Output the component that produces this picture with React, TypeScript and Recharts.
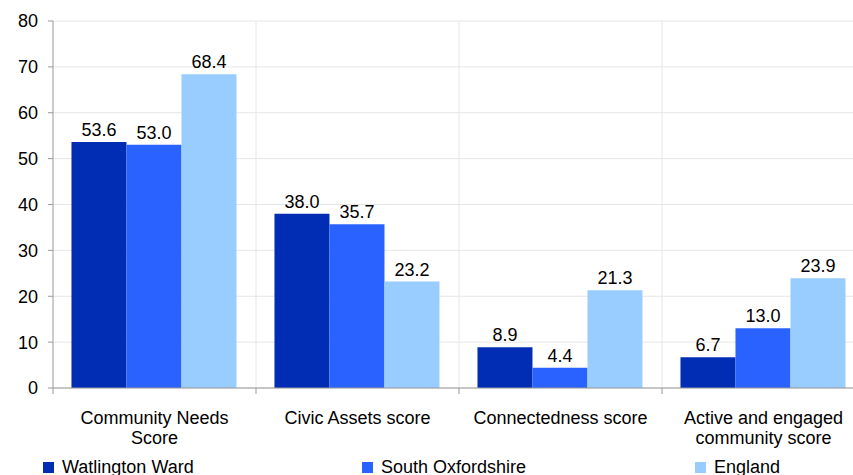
import React from 'react';
import { BarChart, Bar, XAxis, YAxis, CartesianGrid, LabelList, Legend, Text, ReferenceLine } from 'recharts';

const categories = [
  'Community Needs Score',
  'Civic Assets score',
  'Connectedness score',
  'Active and engaged community score',
];
const watlingtonWard = [53.6, 38.0, 8.9, 6.7];
const southOxfordshire = [53.0, 35.7, 4.4, 13.0];
const england = [68.4, 23.2, 21.3, 23.9];
const seriesNames = ['Watlington Ward', 'South Oxfordshire', 'England'];
const yTicks = [0, 10, 20, 30, 40, 50, 60, 70, 80];

const COLORS = ['#002db3', '#2962ff', '#99ccff'];
const FONT = '"Liberation Sans", Arial, sans-serif';
const AXIS_GREY = '#999';

const data = categories.map((c, i) => ({
  category: c,
  w: watlingtonWard[i],
  s: southOxfordshire[i],
  e: england[i],
}));

const TICK_SIZE = 6;
const TICK_MARGIN = 17;

const CatTick = (props: any) => {
  const { x, y, payload } = props;
  const half = payload && typeof payload.offset === 'number' ? payload.offset : 0;
  const axisY = y - TICK_SIZE - TICK_MARGIN;
  const bx = x - half;
  return (
    <g>
      <line x1={bx} y1={axisY} x2={bx} y2={axisY + TICK_SIZE} stroke={AXIS_GREY} />
      <Text
        x={x}
        y={y}
        width={165}
        textAnchor="middle"
        verticalAnchor="start"
        fontSize={18}
        fontFamily={FONT}
        style={{ fontSize: 18, fontFamily: FONT }}
        fill="#000"
        lineHeight={20}
      >
        {payload.value}
      </Text>
    </g>
  );
};

const LegendContent = (props: any) => {
  const payload = [...(props.payload || [])].sort(
    (a: any, b: any) => seriesNames.indexOf(a.value) - seriesNames.indexOf(b.value)
  );
  const widths = [319, 333, 120];
  return (
    <div style={{ display: 'flex', paddingLeft: 43, fontFamily: FONT, fontSize: 18, color: '#000' }}>
      {payload.map((p: any, i: number) => (
        <div key={i} style={{ width: widths[i], flexShrink: 0, display: 'flex', alignItems: 'center' }}>
          <span style={{ display: 'inline-block', width: 11, height: 11, background: p.color, marginRight: 8 }} />
          <span>{p.value}</span>
        </div>
      ))}
    </div>
  );
};

const fmt = (v: any) => Number(v).toFixed(1);

export default function App() {
  return (
    <div style={{ position: 'absolute', left: 0, top: 0, width: 853, height: 475, overflow: 'hidden', background: '#fff' }}>
      <BarChart
        width={870}
        height={475}
        data={data}
        margin={{ top: 21, right: 5, left: 0, bottom: 27 }}
        barCategoryGap="9.1%"
        barGap={0}
      >
        <CartesianGrid vertical={false} stroke="#e6e6e6" strokeWidth={1} />
        {categories.slice(1).map((c) => (
          <ReferenceLine key={c} x={c} position="start" stroke="#e6e6e6" strokeWidth={1} />
        ))}
        <XAxis
          dataKey="category"
          height={60}
          axisLine={{ stroke: AXIS_GREY }}
          tickLine={false}
          tickSize={TICK_SIZE}
          tickMargin={TICK_MARGIN}
          interval={0}
          tick={<CatTick />}
        />
        <YAxis
          width={53}
          domain={[0, 80]}
          ticks={yTicks}
          tickSize={5}
          tickMargin={10}
          axisLine={{ stroke: AXIS_GREY }}
          tickLine={{ stroke: AXIS_GREY }}
          tick={{ fill: '#000', fontSize: 18, fontFamily: FONT }}
        />
        <Legend
          verticalAlign="middle"
          layout="horizontal"
          wrapperStyle={{ top: 457, left: 0, width: 853 }}
          content={<LegendContent />}
        />
        {(['w', 's', 'e'] as const).map((k, i) => (
          <Bar key={k} dataKey={k} name={seriesNames[i]} fill={COLORS[i]} isAnimationActive={false}>
            <LabelList
              dataKey={k}
              position="top"
              offset={6}
              formatter={fmt}
              style={{ fill: '#000', fontSize: 18, fontFamily: FONT }}
            />
          </Bar>
        ))}
      </BarChart>
    </div>
  );
}
